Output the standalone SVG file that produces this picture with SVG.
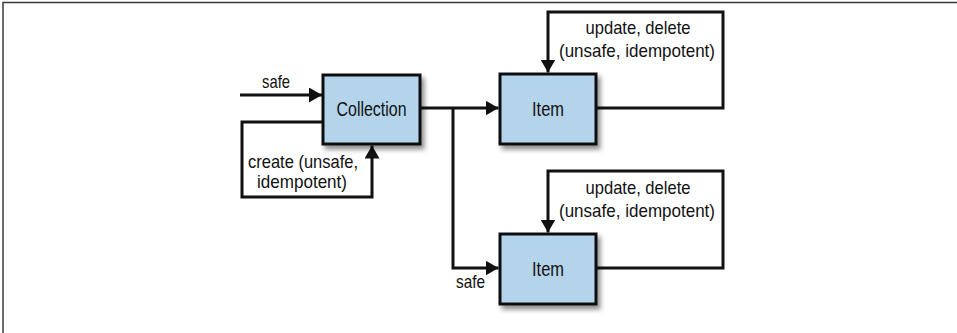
<svg xmlns="http://www.w3.org/2000/svg" width="957" height="333" viewBox="0 0 957 333">
<style>
.frame{fill:none;stroke:#3a3a3a;stroke-width:1.5}
.box{fill:#b3d4ea;stroke:#111;stroke-width:3;filter:url(#sh)}
.conn{fill:none;stroke:#111;stroke-width:3;marker-end:url(#arr)}
.lbl{font-family:"Liberation Sans Narrow","Liberation Sans",Arial,sans-serif;font-size:18.5px;fill:#111;text-anchor:middle}
.nlbl{font-family:"Liberation Sans Narrow","Liberation Sans",Arial,sans-serif;font-size:20.5px;fill:#111;text-anchor:middle}
</style>
<defs>
<filter id="sh" x="-20%" y="-20%" width="150%" height="150%">
<feGaussianBlur in="SourceAlpha" stdDeviation="2.5"/>
<feOffset dx="3" dy="4" result="b"/>
<feComponentTransfer><feFuncA type="linear" slope="0.45"/></feComponentTransfer>
<feMerge><feMergeNode/><feMergeNode in="SourceGraphic"/></feMerge>
</filter>
<marker id="arr" markerUnits="userSpaceOnUse" markerWidth="14" markerHeight="16" refX="13" refY="7.5" orient="auto">
<path d="M0,0 L13,7.5 L0,15 z" fill="#111"/>
</marker>
</defs>
<rect width="957" height="333" fill="#fff"/>
<path class="frame" d="M3,333 V2.5 H957"/>
<g id="connectors">
<path class="conn" d="M240,95 H322"/>
<path class="conn" d="M323,122 H242 V197 H372 V145.5"/>
<path class="conn" d="M421,108 H498.5"/>
<path class="conn" d="M453,108 V268 H498.5"/>
<path class="conn" d="M596,108 H723 V12 H548 V72.5"/>
<path class="conn" d="M596,268 H723 V171 H548 V232.5"/>
<text class="lbl" x="276" y="88" textLength="28" lengthAdjust="spacingAndGlyphs">safe</text>
<text class="lbl" x="303" y="168" textLength="110" lengthAdjust="spacingAndGlyphs">create (unsafe,</text>
<text class="lbl" x="302" y="188" textLength="90" lengthAdjust="spacingAndGlyphs">idempotent)</text>
<text class="lbl" x="470.5" y="288" textLength="29" lengthAdjust="spacingAndGlyphs">safe</text>
<text class="lbl" x="638" y="34" textLength="105" lengthAdjust="spacingAndGlyphs">update, delete</text>
<text class="lbl" x="637" y="57" textLength="156" lengthAdjust="spacingAndGlyphs">(unsafe, idempotent)</text>
<text class="lbl" x="638" y="194" textLength="105" lengthAdjust="spacingAndGlyphs">update, delete</text>
<text class="lbl" x="637" y="217" textLength="156" lengthAdjust="spacingAndGlyphs">(unsafe, idempotent)</text>
</g>
<g id="collection">
<rect class="box" x="323" y="75" width="97" height="69"/>
<text class="nlbl" x="371.5" y="116" textLength="70" lengthAdjust="spacingAndGlyphs">Collection</text>
</g>
<g id="item1">
<rect class="box" x="500" y="74" width="96" height="70"/>
<text class="nlbl" x="548" y="116" textLength="32" lengthAdjust="spacingAndGlyphs">Item</text>
</g>
<g id="item2">
<rect class="box" x="500" y="234" width="96" height="70"/>
<text class="nlbl" x="548" y="276" textLength="32" lengthAdjust="spacingAndGlyphs">Item</text>
</g>
</svg>
